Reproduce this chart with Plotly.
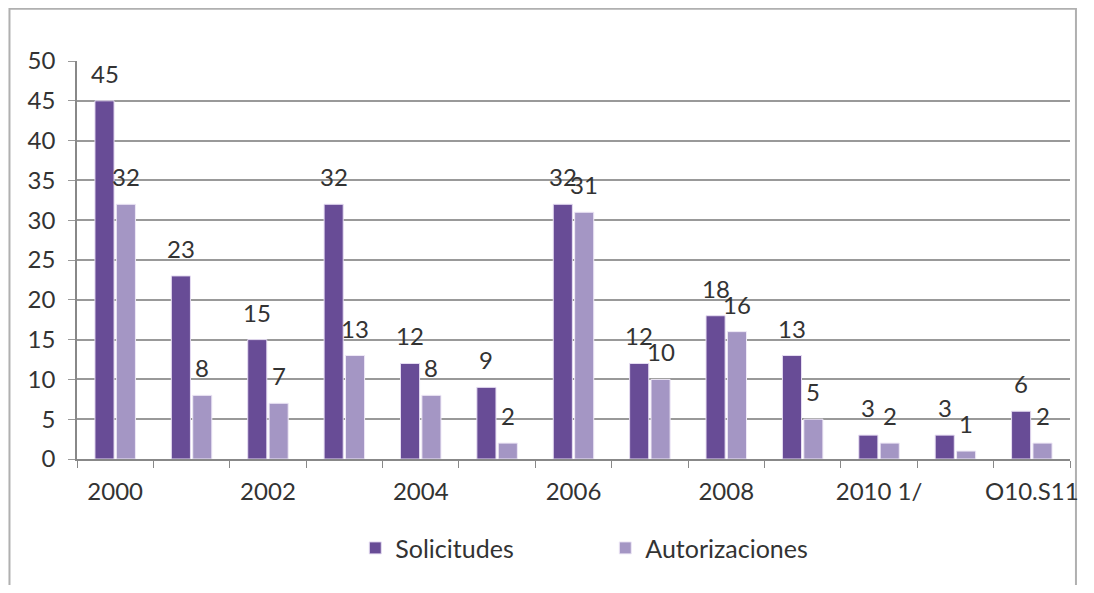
import plotly.graph_objects as go

# categories (every other one gets a visible label, as in the source chart)
categories = ["2000", "2001", "2002", "2003", "2004", "2005", "2006",
              "2007", "2008", "2009", "2010 1/", "2011 1/", "O10.S11"]
tick_labels = ["2000", "", "2002", "", "2004", "", "2006",
               "", "2008", "", "2010 1/", "", "O10.S11"]
solicitudes = [45, 23, 15, 32, 12, 9, 32, 12, 18, 13, 3, 3, 6]
autorizaciones = [32, 8, 7, 13, 8, 2, 31, 10, 16, 5, 2, 1, 2]

DARK = "#684C96"
LIGHT = "#A496C4"
FONT = "Lato"
BAR_W = 0.25
OFFS = {"sol": -0.265, "aut": 0.015}

fig = go.Figure()

fig.add_trace(go.Bar(
    x=categories, y=solicitudes, name="Solicitudes",
    width=BAR_W, offset=OFFS["sol"],
    marker=dict(color=DARK, line=dict(color="#E6DDF2", width=1)),
))
fig.add_trace(go.Bar(
    x=categories, y=autorizaciones, name="Autorizaciones",
    width=BAR_W, offset=OFFS["aut"],
    marker=dict(color=LIGHT, line=dict(color="#EEE8F6", width=1)),
))

# data labels above each bar
for i, (s, a) in enumerate(zip(solicitudes, autorizaciones)):
    for val, off in ((s, OFFS["sol"]), (a, OFFS["aut"])):
        fig.add_annotation(
            x=i + off + BAR_W / 2, y=val, text=str(val),
            showarrow=False, yanchor="bottom", yshift=11,
            font=dict(family=FONT, size=24, color="#333333"),
        )

# outer chart frame
fig.add_shape(
    type="rect", xref="paper", yref="paper",
    x0=-0.068, x1=1.006, y0=-0.33, y1=1.131,
    line=dict(color="#B0B0B0", width=2), layer="below",
)

fig.update_layout(
    width=1078, height=577,
    margin=dict(l=69, r=8, t=53, b=126),
    paper_bgcolor="white", plot_bgcolor="white",
    font=dict(family=FONT, size=24, color="#333333"),
    showlegend=True,
    legend=dict(
        orientation="h", x=0.532, xanchor="center", y=-0.224, yanchor="middle",
        font=dict(family=FONT, size=25, color="#333333"),
        entrywidth=205, itemwidth=30,
    ),
    xaxis=dict(
        type="category", tickmode="array",
        tickvals=categories, ticktext=tick_labels, tickangle=0,
        tickson="boundaries", ticks="outside", ticklen=7,
        tickcolor="#888888", showline=True, linecolor="#888888", linewidth=1.5,
        showgrid=False, ticklabelstandoff=10,
        range=[-0.5, len(categories) - 0.5],
    ),
    yaxis=dict(
        range=[0, 50], dtick=5, showgrid=True,
        gridcolor="#999999", gridwidth=1.5,
        ticks="outside", ticklen=7, tickcolor="#999999",
        showline=True, linecolor="#888888", linewidth=1.5,
        zeroline=False, ticklabelstandoff=8,
    ),
)

fig.write_html("out.html")
